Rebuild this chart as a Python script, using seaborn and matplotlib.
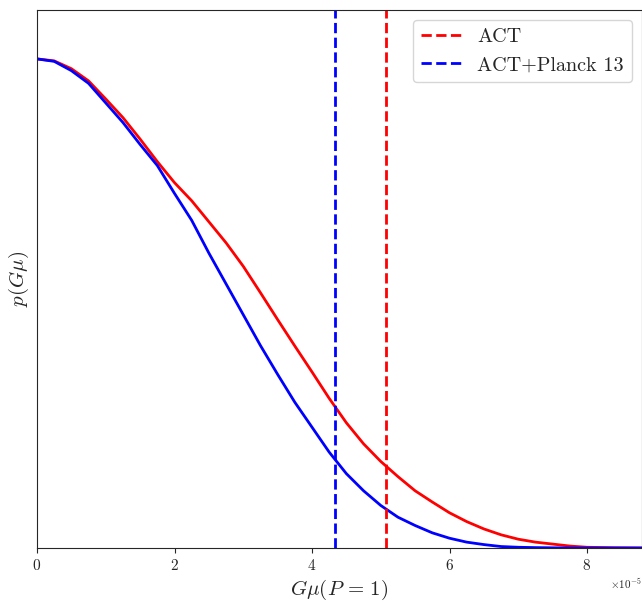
import numpy as np
import pandas as pd
import matplotlib
matplotlib.use("Agg")
import matplotlib.pyplot as plt
import seaborn as sns

# Gmu values (units of 1e-5)
gmu = [0.0, 0.25, 0.5, 0.75, 1.0, 1.25, 1.5, 1.75, 2.0, 2.25, 2.5, 2.75,
       3.0, 3.25, 3.5, 3.75, 4.0, 4.25, 4.5, 4.75, 5.0, 5.25, 5.5, 5.75,
       6.0, 6.25, 6.5, 6.75, 7.0, 7.25, 7.5, 7.75, 8.0, 8.4, 8.8]
p_act = [1.0, 0.996, 0.98, 0.955, 0.918, 0.88, 0.836, 0.79, 0.747, 0.71,
         0.667, 0.624, 0.576, 0.522, 0.467, 0.413, 0.36, 0.306, 0.256,
         0.213, 0.177, 0.146, 0.117, 0.094, 0.072, 0.054, 0.039, 0.027,
         0.018, 0.012, 0.008, 0.004, 0.0015, 0.0005, 0.0]
p_act_planck = [1.0, 0.995, 0.976, 0.95, 0.91, 0.87, 0.825, 0.782, 0.725,
                0.67, 0.603, 0.54, 0.477, 0.414, 0.355, 0.298, 0.247, 0.196,
                0.152, 0.117, 0.087, 0.063, 0.046, 0.031, 0.020, 0.012,
                0.007, 0.003, 0.0015, 0.0008, 0.0004, 0.0001, 0.0, 0.0, 0.0]

# 95% limits
limit_act = 5.08
limit_act_planck = 4.33

sns.set_style("ticks")
plt.rcParams["font.family"] = ["cmr10", "DejaVu Serif"]
plt.rcParams["mathtext.fontset"] = "cm"
plt.rcParams["axes.formatter.use_mathtext"] = True

df = pd.DataFrame({
    "gmu": np.array(gmu) * 1e-5,
    "act": p_act,
    "act_planck": p_act_planck,
})

fig = plt.figure(figsize=(6.42, 6.06), dpi=100)
ax = fig.add_axes([37 / 642, 1 - 548 / 606, 1 - 37 / 642, (548 - 10) / 606])

sns.lineplot(data=df, x="gmu", y="act", color="red", lw=2, ax=ax, legend=False)
sns.lineplot(data=df, x="gmu", y="act_planck", color="blue", lw=2, ax=ax,
             legend=False)

ax.axvline(limit_act * 1e-5, color="red", ls="--", lw=2, label="ACT")
ax.axvline(limit_act_planck * 1e-5, color="blue", ls="--", lw=2,
           label="ACT+Planck 13")

ax.set_xlim(0, 8.8e-5)
ax.set_ylim(0, 1.1)
ax.set_yticks([])
ax.set_xticks([0, 2e-5, 4e-5, 6e-5, 8e-5])
ax.tick_params(axis="x", labelsize=11)
ax.xaxis.get_offset_text().set_fontsize(8)

ax.set_xlabel(r"$G\mu(P\,=\,1)$", fontsize=15)
ax.set_ylabel(r"$p(G\mu)$", fontsize=15)

ax.legend(loc="upper right", fontsize=14.5)

plt.savefig("out.png", dpi=100)
